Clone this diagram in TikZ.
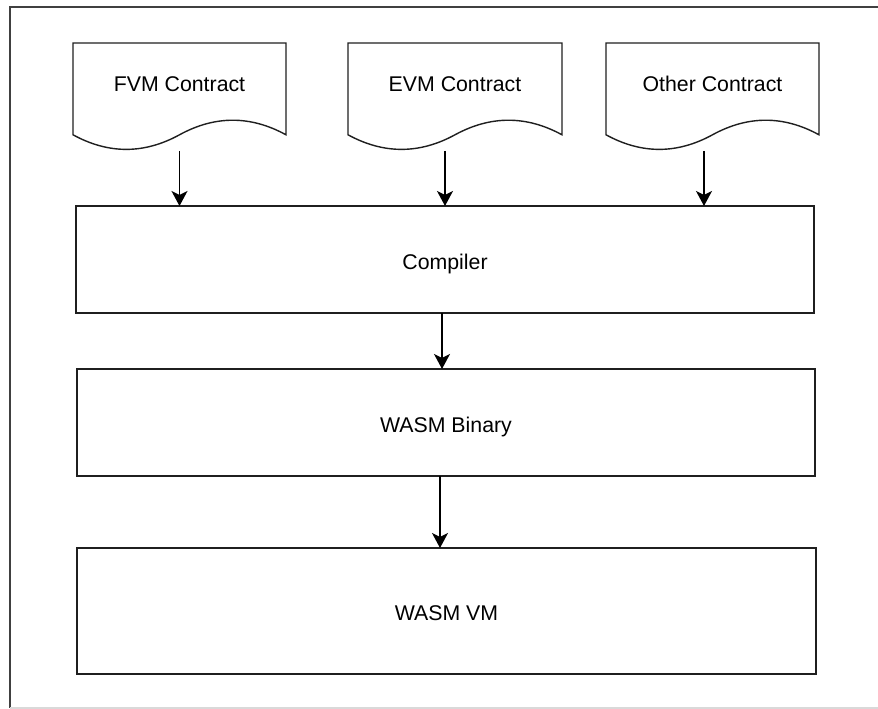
\documentclass[tikz,border=0pt]{standalone}
\usepackage{fontspec}
\setmainfont{Liberation Sans}
\usetikzlibrary{arrows.meta,calc}
\newcommand{\docoutline}[1]{%
  \draw[shapeline] (#1.north west) -- (#1.north east) -- ($(#1.south east)+(0,16.2)$)
    .. controls ($(#1.south west)!0.8333!(#1.south east)+(0,35.64)$) and ($(#1.south west)!0.6667!(#1.south east)+(0,35.64)$) .. ($(#1.south)+(0,16.2)$)
    .. controls ($(#1.south west)!0.3333!(#1.south east)+(0,-3.24)$) and ($(#1.south west)!0.1667!(#1.south east)+(0,-3.24)$) .. ($(#1.south west)+(0,16.2)$)
    -- cycle;}
\begin{document}
\begin{tikzpicture}[x=1pt,y=1pt,
  shapeline/.style={draw=black!88, line width=1.4pt},
  docnode/.style={inner sep=0pt, outer sep=0pt, minimum width=213pt, minimum height=108pt},
  procbox/.style={shapeline, inner sep=0pt, outer sep=0pt, minimum width=738pt, text height=23.8pt, text depth=4.5pt, font=\fontsize{21.3}{25}\selectfont},
  doclabel/.style={font=\fontsize{21.3}{25}\selectfont, inner sep=0pt},
  flow/.style={draw=black, line width=1.4pt, -{Stealth[length=15pt,width=16pt,inset=4pt]}},
  frameline/.style={draw=black!75, line width=1.6pt}]
\useasboundingbox (0,0) rectangle (878,709);
\fill[white] (0,0) rectangle (878,709);
% outer frame
\draw[frameline] (878,702) -- (10,702) -- (10,1);
\draw[draw=black!15, line width=1.2pt] (10,1) -- (878,1);
% contracts
\node[docnode, label={[doclabel,yshift=13pt]center:FVM Contract}] (fvm) at (179.5,612) {};
\node[docnode, minimum width=214pt, label={[doclabel,yshift=13pt]center:EVM Contract}] (evm) at (455,612) {};
\node[docnode, label={[doclabel,yshift=13pt]center:Other Contract}] (other) at (712.5,612) {};
\docoutline{fvm}
\docoutline{evm}
\docoutline{other}
% process boxes
\node[procbox, minimum height=107pt] (compiler) at (445,449.5) {Compiler};
\node[procbox, minimum height=107pt] (binary) at (446,286.5) {WASM Binary};
\node[procbox, minimum height=126pt, minimum width=739pt] (vm) at (446.5,98) {WASM VM};
% connectors
\draw[flow] (fvm.south) -- (fvm.south |- compiler.north);
\draw[flow] ([xshift=-10pt]evm.south) -- ([xshift=-10pt]evm.south |- compiler.north);
\draw[flow] ([xshift=-8.5pt]other.south) -- ([xshift=-8.5pt]other.south |- compiler.north);
\draw[flow] ([xshift=-3pt]compiler.south) -- ([xshift=-3pt]compiler.south |- binary.north);
\draw[flow] ([xshift=-6pt]binary.south) -- ([xshift=-6pt]binary.south |- vm.north);
\end{tikzpicture}
\end{document}
